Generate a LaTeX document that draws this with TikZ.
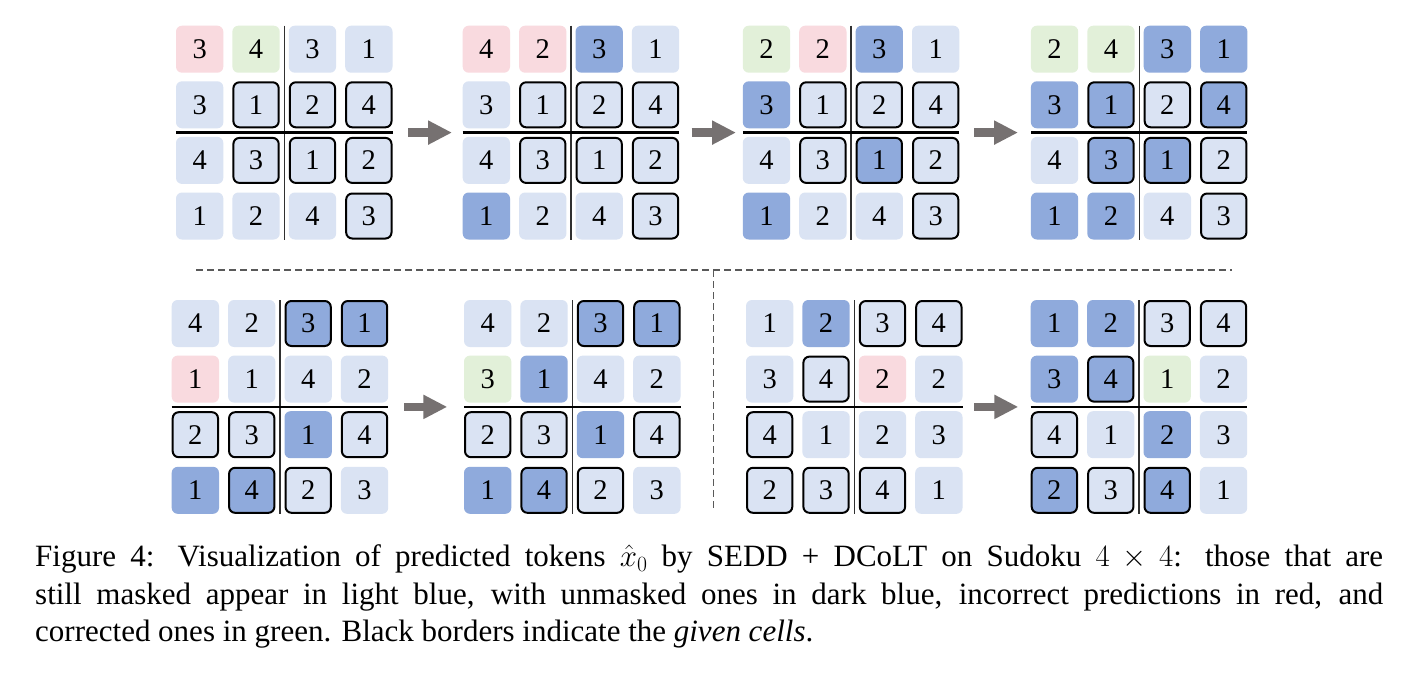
\RequirePackage{fix-cm}
\documentclass[tikz,border=0pt]{standalone}
\usepackage{fontspec}
\setmainfont{Liberation Serif}
\usetikzlibrary{calc,arrows.meta}
\definecolor{lblue}{HTML}{DAE3F3}
\definecolor{dblue}{HTML}{8FAADC}
\definecolor{pinkc}{HTML}{F9DADF}
\definecolor{greenc}{HTML}{E2F0D9}
\definecolor{arrc}{HTML}{767171}
\definecolor{dashc}{HTML}{595959}
\definecolor{vsepc}{HTML}{303030}
\tikzset{
  cell/.style={rounded corners=6pt, minimum width=47.3pt, minimum height=47pt, inner sep=0pt,
    font=\fontsize{28.5}{28.5}\selectfont},
  bord/.style={draw=black, line width=2pt, minimum width=45.3pt, minimum height=45pt},
  cL/.style={fill=lblue}, cD/.style={fill=dblue}, cR/.style={fill=pinkc}, cG/.style={fill=greenc},
  cLB/.style={fill=lblue, bord}, cDB/.style={fill=dblue, bord},
  st/.style={#1},
  vsep/.style={draw=vsepc, line width=1.2pt},
  hsep/.style={draw=black, line width=2.5pt},
  bigarr/.style={draw=arrc, line width=8.3pt, -{Triangle[length=24pt, width=22.7pt, fill=arrc]}},
  dashl/.style={draw=dashc, line width=1.3pt, dash pattern=on 6.5pt off 4.5pt}
}
\newcommand{\sgrid}[4]{%
  \foreach \v/\c [count=\i from 0] in {#4} {
    \pgfmathtruncatemacro\rr{int(\i/4)}
    \pgfmathtruncatemacro\cc{mod(\i,4)}
    \node[cell, st/.expanded=c\c] (#1-\rr-\cc) at ({#2+23.65+\cc*56.4},{#3+23.5+\rr*55.6}) {\v};
  }
  \draw[vsep] ($(#1-0-1)!0.5!(#1-0-2)-(0,23.5)$) -- ($(#1-3-1)!0.5!(#1-3-2)+(0,23.5)$);
  \draw[hsep] ($(#1-1-0)!0.5!(#1-2-0)-(23.65,0)$) -- ($(#1-1-3)!0.5!(#1-2-3)+(23.65,0)$);
}
\begin{document}
\begin{tikzpicture}[x=1pt,y=-1pt]
\useasboundingbox[fill=white] (0,0) rectangle (1412,672);
% top row
\sgrid{ga}{176}{25.7}{3/R,4/G,3/L,1/L, 3/L,1/LB,2/LB,4/LB, 4/L,3/LB,1/LB,2/LB, 1/L,2/L,4/L,3/LB}
\sgrid{gb}{462.7}{25.7}{4/R,2/R,3/D,1/L, 3/L,1/LB,2/LB,4/LB, 4/L,3/LB,1/LB,2/LB, 1/D,2/L,4/L,3/LB}
\sgrid{gc}{742.8}{25.7}{2/G,2/R,3/D,1/L, 3/D,1/LB,2/LB,4/LB, 4/L,3/LB,1/DB,2/LB, 1/D,2/L,4/L,3/LB}
\sgrid{gd}{1030.9}{25.7}{2/G,4/G,3/D,1/D, 3/D,1/DB,2/LB,4/DB, 4/L,3/DB,1/DB,2/LB, 1/D,2/D,4/L,3/LB}
% bottom row
\sgrid{ge}{171.7}{300}{4/L,2/L,3/DB,1/DB, 1/R,1/L,4/L,2/L, 2/LB,3/LB,1/D,4/LB, 1/D,4/DB,2/LB,3/L}
\sgrid{gf}{464}{300}{4/L,2/L,3/DB,1/DB, 3/G,1/D,4/L,2/L, 2/LB,3/LB,1/D,4/LB, 1/D,4/DB,2/LB,3/L}
\sgrid{gg}{746}{300}{1/L,2/D,3/LB,4/LB, 3/L,4/LB,2/R,2/L, 4/LB,1/L,2/L,3/L, 2/LB,3/LB,4/LB,1/L}
\sgrid{gh}{1030.7}{300}{1/D,2/D,3/LB,4/LB, 3/D,4/DB,1/G,2/L, 4/LB,1/L,2/D,3/L, 2/DB,3/LB,4/DB,1/L}
% arrows
\coordinate (a1s) at (408,132.6);   \coordinate (a1e) at (452,132.6);
\coordinate (a2s) at (691.7,132.6); \coordinate (a2e) at (736,132.6);
\coordinate (a3s) at (974,132.6);   \coordinate (a3e) at (1018,132.6);
\coordinate (a4s) at (404.3,406.9); \coordinate (a4e) at (447.3,406.9);
\coordinate (a5s) at (974,406.9);   \coordinate (a5e) at (1018.3,406.9);
\foreach \k in {1,...,5} \draw[bigarr] (a\k s) -- (a\k e);
% dashed separators
\coordinate (dl) at (196,270); \coordinate (dr) at (1232,270);
\coordinate (dm) at (713.3,270); \coordinate (db) at (713.3,512);
\draw[dashl] (dl) -- (dr);
\draw[dashl] (dm) -- (db);
% caption
\node[anchor=base west, text width=1348pt, align=justify, inner sep=0pt,
      font=\fontsize{31}{37.5}\selectfont] (cap) at (35,566.7)
  {Figure 4: Visualization of predicted tokens $\hat{x}_0$ by SEDD + DCoLT on Sudoku $4\times4$: those that are\linebreak
   still masked appear in light blue, with unmasked ones in dark blue, incorrect predictions in red, and\linebreak
   corrected ones in green. Black borders indicate the \textit{given cells}.};
\end{tikzpicture}
\end{document}
